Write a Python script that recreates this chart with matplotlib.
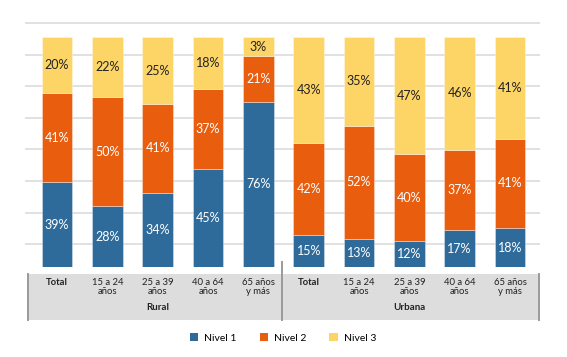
import numpy as np
import matplotlib
matplotlib.use("Agg")
import matplotlib.pyplot as plt
from matplotlib.patches import Rectangle, Patch
from matplotlib.lines import Line2D

plt.rcParams['font.family'] = ['Lato', 'DejaVu Sans']

# data
cats = ['Total', '15 a 24\naños', '25 a 39\naños', '40 a 64\naños', '65 años\ny más',
        'Total', '15 a 24\naños', '25 a 39\naños', '40 a 64\naños', '65 años\ny más']
groups = ['Rural', 'Urbana']
nivel1 = [39, 28, 34, 45, 76, 15, 13, 12, 17, 18]
nivel2 = [41, 50, 41, 37, 21, 42, 52, 40, 37, 41]
nivel3 = [20, 22, 25, 18, 3, 43, 35, 47, 46, 41]
series = ['Nivel 1', 'Nivel 2', 'Nivel 3']

colors = ['#2E6A9A', '#E95D0F', '#FDD566']
txt_colors = ['white', 'white', '#222222']

W, H = 567, 357
fig = plt.figure(figsize=(W / 100, H / 100), dpi=100)

# axes placed in pixel terms; 100% = 218 px, bars share a common top
left_px, right_px, bot_px, top_px = 25, 540, 267.3, 15
unit_px = 218
bar_top = 1.055
ax = fig.add_axes([left_px / W, 1 - bot_px / H, (right_px - left_px) / W, (bot_px - top_px) / H])
step = 50.3
ax.set_xlim(-(57 - left_px) / step, 9 + (right_px - 510) / step)
ax.set_ylim(0, (bot_px - top_px) / unit_px)

vals = np.array([nivel1, nivel2, nivel3], dtype=float)
x = np.arange(len(cats))
bottom = np.zeros(len(cats))
for i in range(3):
    h = vals[i] / 100 if i < 2 else bar_top - bottom
    ax.bar(x, h, 0.607, bottom=bottom, color=colors[i], edgecolor='#ffffff66',
           linewidth=0.6, zorder=3)
    for xi, hi, bi, v in zip(x, h, bottom, vals[i]):
        ax.text(xi, bi + hi / 2, f'{int(v)}%', ha='center', va='center',
                fontsize=9, color=txt_colors[i], zorder=4)
    bottom = bottom + h

# decorative gridlines
g0, gs = 0.1055, 0.145
for k in range(8):
    ax.axhline(g0 + k * gs, color='#DEDEDE', lw=1.3, zorder=1)

for s in ax.spines.values():
    s.set_visible(False)
ax.set_xticks([])
ax.set_yticks([])

# category table below the plot
def fx(px):
    return px / W

def fy(py):
    return 1 - py / H

fig.patches.append(Rectangle((fx(28), fy(320)), fx(540) - fx(28), fy(274) - fy(320),
                             transform=fig.transFigure, facecolor='#DDDDDD',
                             edgecolor='none', zorder=0))
for xp, y0 in [(28, 274), (282, 262), (539, 274)]:
    fig.lines.append(Line2D([fx(xp), fx(xp)], [fy(y0), fy(320)], transform=fig.transFigure,
                            color='#9A9A9A', lw=1.4))

for i, c in enumerate(cats):
    xd = ax.transData.transform((x[i], 0))[0] / fig.bbox.width
    fig.text(xd, fy(278), c, ha='center', va='top', fontsize=6.8,
             fontweight='bold' if c == 'Total' else 'normal', color='#222222',
             linespacing=1.05)
for gi, g in enumerate(groups):
    xd = ax.transData.transform((gi * 5 + 2, 0))[0] / fig.bbox.width
    fig.text(xd, fy(307), g, ha='center', va='center', fontsize=7,
             fontweight='bold', color='#222222')

handles = [Patch(facecolor=colors[i], label=series[i]) for i in range(3)]
fig.legend(handles=handles, loc='center', bbox_to_anchor=(fx(283), fy(338)), ncol=3,
           frameon=False, fontsize=7.5, handlelength=0.8, handleheight=0.8,
           columnspacing=2.2, handletextpad=0.6)

fig.savefig('out.png', dpi=100)
